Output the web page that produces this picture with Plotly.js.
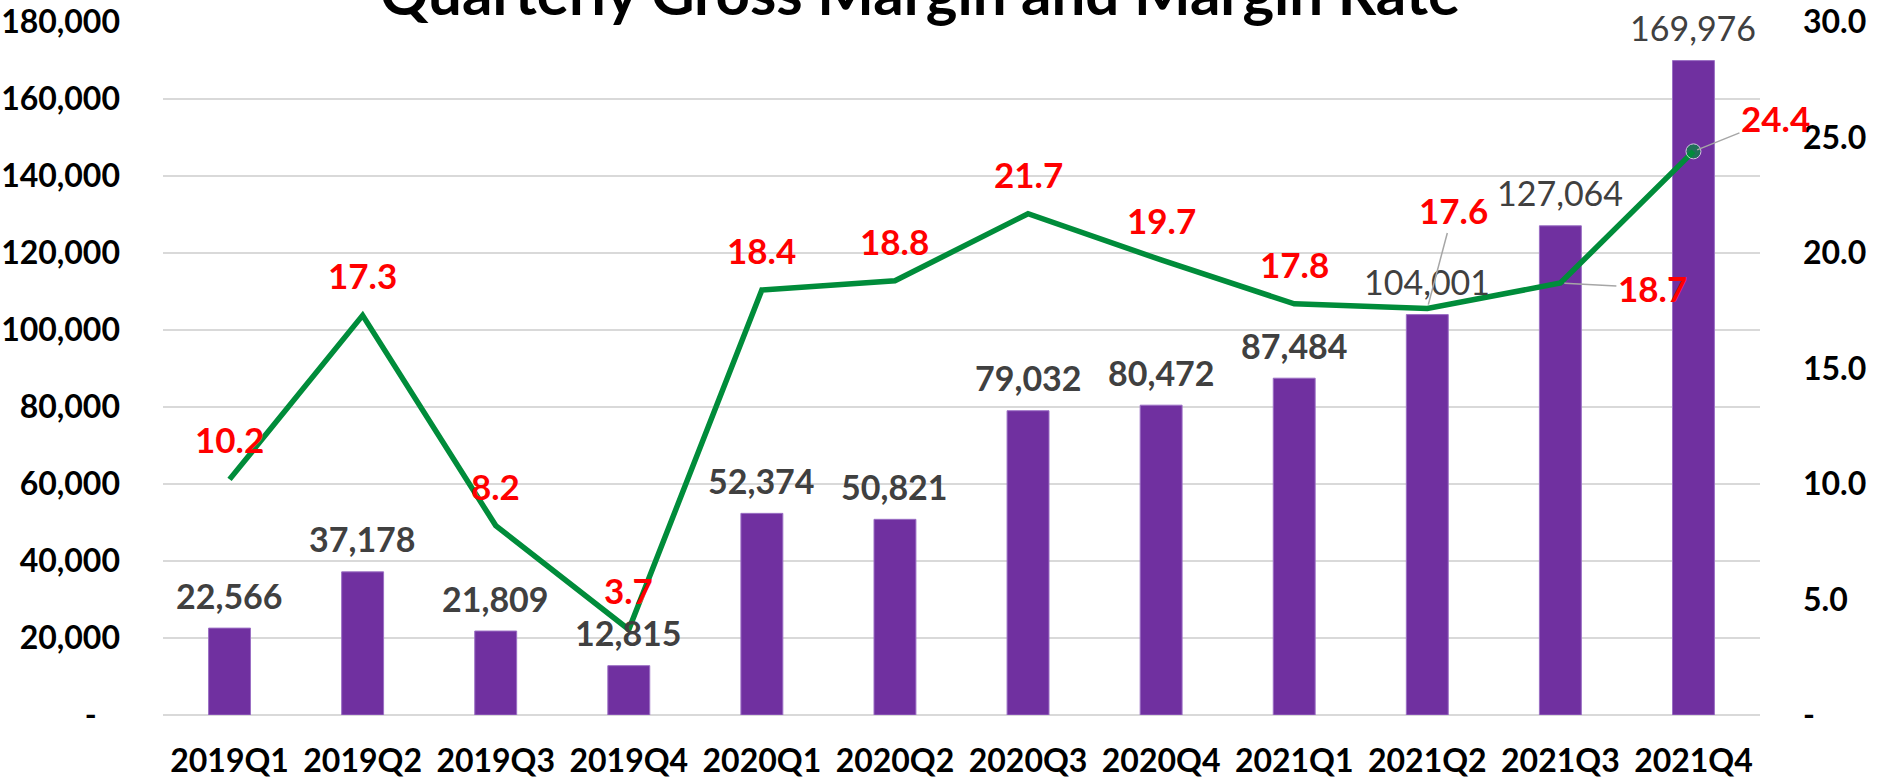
<!DOCTYPE html>
<html>
<head>
<meta charset="utf-8">
<script src="https://cdn.plot.ly/plotly-3.0.1.min.js"></script>
<style>
  html, body { margin: 0; padding: 0; background: #ffffff; }
  #chart { width: 1886px; height: 780px; }
</style>
</head>
<body>
<div id="chart"></div>
<script>
// ---- data ----
const quarters = ['2019Q1','2019Q2','2019Q3','2019Q4','2020Q1','2020Q2','2020Q3','2020Q4','2021Q1','2021Q2','2021Q3','2021Q4'];
const grossMargin = [22566, 37178, 21809, 12815, 52374, 50821, 79032, 80472, 87484, 104001, 127064, 169976];
const marginRate = [10.2, 17.3, 8.2, 3.7, 18.4, 18.8, 21.7, 19.7, 17.8, 17.6, 18.7, 24.4];
const leftTickVals = [0, 20000, 40000, 60000, 80000, 100000, 120000, 140000, 160000, 180000];
const leftTickText = ['-\u00a0\u00a0\u00a0', '20,000', '40,000', '60,000', '80,000', '100,000', '120,000', '140,000', '160,000', '180,000'];
const rightTickVals = [0, 5, 10, 15, 20, 25, 30];
const rightTickText = ['-', '5.0', '10.0', '15.0', '20.0', '25.0', '30.0'];
const titleText = 'Quarterly Gross Margin and Margin Rate';

// ---- styles ----
const FONT = 'Lato, "Open Sans", "DejaVu Sans", sans-serif';
const purple = '#7030A0';
const green = '#008C3A';
const barLabelBold = [true, true, true, true, true, true, true, true, true, false, false, false];
// pixel offsets [ax, ay] for the rate labels that use a leader line
const rateLeader = { 9: [26, -98], 10: [92, 5], 11: [82, -33] };

const fmt = v => v.toLocaleString('en-US');

const bars = {
  type: 'bar',
  x: quarters,
  y: grossMargin,
  width: 0.315,
  marker: { color: purple, line: { color: '#9B6FC4', width: 1 } },
  yaxis: 'y',
  hoverinfo: 'skip',
  showlegend: false
};

const line = {
  type: 'scatter',
  mode: 'lines+markers',
  x: quarters,
  y: marginRate,
  yaxis: 'y2',
  line: { color: green, width: 5.5 },
  marker: { color: green, size: marginRate.map((v, i) => i === marginRate.length - 1 ? 15 : 0) },
  hoverinfo: 'skip',
  showlegend: false
};

const annotations = [];
grossMargin.forEach((v, i) => {
  annotations.push({
    x: quarters[i], y: v, xref: 'x', yref: 'y',
    text: barLabelBold[i] ? '<b>' + fmt(v) + '</b>' : fmt(v),
    showarrow: false, xanchor: 'center', yanchor: 'middle', yshift: 33,
    font: { family: FONT, size: 34, color: '#404040' }
  });
});
marginRate.forEach((v, i) => {
  const lead = rateLeader[i];
  if (lead) {
    annotations.push({
      x: quarters[i], y: v, xref: 'x', yref: 'y2',
      text: '<b>' + v.toFixed(1) + '</b>',
      showarrow: true, arrowhead: 0, arrowwidth: 1.5, arrowcolor: '#A6A6A6',
      standoff: 4, startstandoff: 0,
      ax: lead[0], ay: lead[1],
      font: { family: FONT, size: 35, color: '#FF0000' }
    });
  } else {
    annotations.push({
      x: quarters[i], y: v, xref: 'x', yref: 'y2',
      text: '<b>' + v.toFixed(1) + '</b>',
      showarrow: false, xanchor: 'center', yanchor: 'middle', yshift: 40,
      font: { family: FONT, size: 35, color: '#FF0000' }
    });
  }
});

const layout = {
  width: 1886,
  height: 780,
  paper_bgcolor: '#ffffff',
  plot_bgcolor: '#ffffff',
  margin: { l: 163, r: 126, t: 22, b: 65, pad: 0 },
  title: {
    text: '<b>' + titleText + '</b>',
    font: { family: FONT, size: 60, color: '#000000' },
    xref: 'container', x: 920 / 1886, xanchor: 'center',
    yref: 'paper', y: 1, yanchor: 'bottom',
    pad: { t: 0, b: 7, l: 0, r: 0 },
    automargin: false
  },
  bargap: 0,
  xaxis: {
    type: 'category',
    range: [-0.5, quarters.length - 0.5],
    autorange: false,
    tickfont: { family: FONT, size: 32, color: '#000000', weight: 'bold' },
    showgrid: false,
    showline: false,
    ticks: '',
    ticklabelstandoff: 24,
    fixedrange: true
  },
  yaxis: {
    range: [0, 180000],
    tickvals: leftTickVals,
    ticktext: leftTickText,
    tickfont: { family: FONT, size: 32, color: '#000000', weight: 'bold' },
    showgrid: true,
    gridcolor: '#D9D9D9',
    gridwidth: 2,
    zeroline: true,
    zerolinecolor: '#D9D9D9',
    zerolinewidth: 2,
    showline: false,
    ticks: '',
    ticklabelstandoff: 42,
    fixedrange: true
  },
  yaxis2: {
    range: [0, 30],
    overlaying: 'y',
    side: 'right',
    tickvals: rightTickVals,
    ticktext: rightTickText,
    tickfont: { family: FONT, size: 32, color: '#000000', weight: 'bold' },
    showgrid: false,
    zeroline: false,
    showline: false,
    ticks: '',
    ticklabelstandoff: 42,
    fixedrange: true
  },
  annotations: annotations,
  showlegend: false
};

Plotly.newPlot('chart', [bars, line], layout, { displayModeBar: false, staticPlot: true });
</script>
</body>
</html>
